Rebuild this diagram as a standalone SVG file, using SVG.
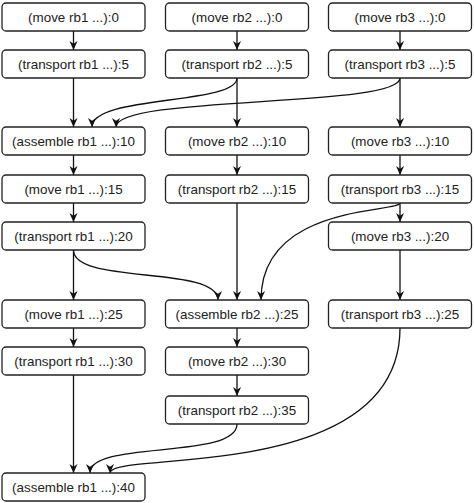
<svg xmlns="http://www.w3.org/2000/svg" width="474" height="503" viewBox="0 0 474 503">
<style>
.n rect{fill:#fff;stroke:#222;stroke-width:1.3}
.n text{font-family:"Liberation Sans",Arial,sans-serif;font-size:13.4px;fill:#222;text-anchor:middle}
.e path{fill:none;stroke:#111;stroke-width:1.3;marker-end:url(#ah)}
</style>
<defs>
<marker id="ah" viewBox="0 0 10 10" refX="10" refY="5" markerWidth="9" markerHeight="9" markerUnits="userSpaceOnUse" orient="auto">
<path d="M0,0.5 L10,5 L0,9.5 L3,5 z" fill="#111"/>
</marker>
</defs>
<rect width="474" height="503" fill="#fff"/>
<g class="e" id="connectors">
<path d="M73.5,31 V50"/>
<path d="M237,31 V50"/>
<path d="M400,31 V50"/>
<path d="M73.5,78 V127"/>
<path d="M237,78 V127"/>
<path d="M400,78 V127"/>
<path d="M237,78 C237,105 92,95 92,127"/>
<path d="M400,78 C400,108 116,95 116,127"/>
<path d="M73.5,155 V175"/>
<path d="M237,155 V175"/>
<path d="M400,155 V175"/>
<path d="M73.5,203 V222"/>
<path d="M400,203 V222"/>
<path d="M237,203 V300"/>
<path d="M400,203 C400,213 261,203 261,300"/>
<path d="M73.5,250 V300"/>
<path d="M400,250 V300"/>
<path d="M73.5,250 C73.5,285 218,265 218,300"/>
<path d="M73.5,328 V347"/>
<path d="M237,328 V347"/>
<path d="M237,375 V396"/>
<path d="M73.5,375 V473"/>
<path d="M237,424 C237,460 90,440 90,473"/>
<path d="M400,328 C400,485 110,450 110,473"/>
</g>
<g class="n" id="n_move_rb1_0"><rect x="2" y="3" width="143" height="28" rx="4"/><text x="73.5" y="22">(move rb1 ...):0</text></g>
<g class="n" id="n_move_rb2_0"><rect x="165.5" y="3" width="143" height="28" rx="4"/><text x="237" y="22">(move rb2 ...):0</text></g>
<g class="n" id="n_move_rb3_0"><rect x="328.5" y="3" width="143" height="28" rx="4"/><text x="400" y="22">(move rb3 ...):0</text></g>
<g class="n" id="n_transport_rb1_5"><rect x="2" y="50" width="143" height="28" rx="4"/><text x="73.5" y="69">(transport rb1 ...):5</text></g>
<g class="n" id="n_transport_rb2_5"><rect x="165.5" y="50" width="143" height="28" rx="4"/><text x="237" y="69">(transport rb2 ...):5</text></g>
<g class="n" id="n_transport_rb3_5"><rect x="328.5" y="50" width="143" height="28" rx="4"/><text x="400" y="69">(transport rb3 ...):5</text></g>
<g class="n" id="n_assemble_rb1_10"><rect x="2" y="127" width="143" height="28" rx="4"/><text x="73.5" y="146">(assemble rb1 ...):10</text></g>
<g class="n" id="n_move_rb2_10"><rect x="165.5" y="127" width="143" height="28" rx="4"/><text x="237" y="146">(move rb2 ...):10</text></g>
<g class="n" id="n_move_rb3_10"><rect x="328.5" y="127" width="143" height="28" rx="4"/><text x="400" y="146">(move rb3 ...):10</text></g>
<g class="n" id="n_move_rb1_15"><rect x="2" y="175" width="143" height="28" rx="4"/><text x="73.5" y="194">(move rb1 ...):15</text></g>
<g class="n" id="n_transport_rb2_15"><rect x="165.5" y="175" width="143" height="28" rx="4"/><text x="237" y="194">(transport rb2 ...):15</text></g>
<g class="n" id="n_transport_rb3_15"><rect x="328.5" y="175" width="143" height="28" rx="4"/><text x="400" y="194">(transport rb3 ...):15</text></g>
<g class="n" id="n_transport_rb1_20"><rect x="2" y="222" width="143" height="28" rx="4"/><text x="73.5" y="241">(transport rb1 ...):20</text></g>
<g class="n" id="n_move_rb3_20"><rect x="328.5" y="222" width="143" height="28" rx="4"/><text x="400" y="241">(move rb3 ...):20</text></g>
<g class="n" id="n_move_rb1_25"><rect x="2" y="300" width="143" height="28" rx="4"/><text x="73.5" y="319">(move rb1 ...):25</text></g>
<g class="n" id="n_assemble_rb2_25"><rect x="165.5" y="300" width="143" height="28" rx="4"/><text x="237" y="319">(assemble rb2 ...):25</text></g>
<g class="n" id="n_transport_rb3_25"><rect x="328.5" y="300" width="143" height="28" rx="4"/><text x="400" y="319">(transport rb3 ...):25</text></g>
<g class="n" id="n_transport_rb1_30"><rect x="2" y="347" width="143" height="28" rx="4"/><text x="73.5" y="366">(transport rb1 ...):30</text></g>
<g class="n" id="n_move_rb2_30"><rect x="165.5" y="347" width="143" height="28" rx="4"/><text x="237" y="366">(move rb2 ...):30</text></g>
<g class="n" id="n_transport_rb2_35"><rect x="165.5" y="396" width="143" height="28" rx="4"/><text x="237" y="415">(transport rb2 ...):35</text></g>
<g class="n" id="n_assemble_rb1_40"><rect x="2" y="473" width="143" height="28" rx="4"/><text x="73.5" y="492">(assemble rb1 ...):40</text></g>
</svg>
